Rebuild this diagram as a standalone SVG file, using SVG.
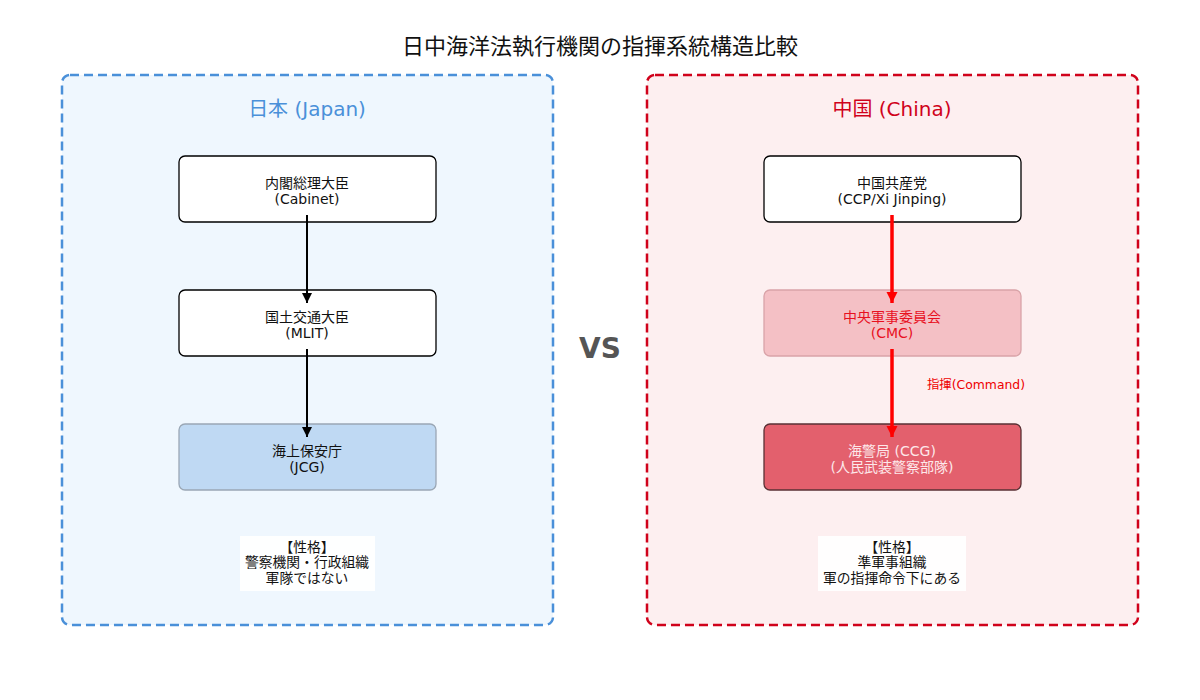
<svg xmlns="http://www.w3.org/2000/svg" width="1200" height="700" viewBox="0 0 1200 700">
<defs>
<style>
text{font-family:"DejaVu Sans","Noto Sans CJK JP",sans-serif;text-anchor:middle}
.title{font-size:22px;fill:#111}
.ptitle{font-size:20px}
.nt{font-size:14px;fill:#111}
.note{font-size:13.8px;fill:#111}
.node{stroke-width:1.3}
</style>
<marker id="ahk" viewBox="0 0 10 10" refX="10" refY="5" markerWidth="10" markerHeight="12" markerUnits="userSpaceOnUse" orient="auto"><path d="M0,0L10,5L0,10z" fill="#000"/></marker>
<marker id="ahr" viewBox="0 0 10 10" refX="10" refY="5" markerWidth="11" markerHeight="14" markerUnits="userSpaceOnUse" orient="auto"><path d="M0,0L10,5L0,10z" fill="#ff0000"/></marker>
</defs>
<rect width="1200" height="700" fill="#fff"/>
<text class="title" x="600" y="54">日中海洋法執行機関の指揮系統構造比較</text>

<g id="panel-japan">
<rect x="62" y="75" width="491" height="550" rx="8" fill="#eff7fe" stroke="#4a90d9" stroke-width="2.5" stroke-dasharray="9,5"/>
<text class="ptitle" x="307" y="116" fill="#4a90d9">日本 (Japan)</text>
</g>
<g id="panel-china">
<rect x="647" y="75" width="491" height="550" rx="8" fill="#fdeff0" stroke="#d0021b" stroke-width="2.5" stroke-dasharray="9,5"/>
<text class="ptitle" x="892" y="116" fill="#d0021b">中国 (China)</text>
</g>

<g id="vs"><text x="600" y="358" style="font-size:28px;font-weight:bold;fill:#555">VS</text></g>

<g id="node-cabinet">
<rect class="node" x="179" y="156" width="257" height="66" rx="6" fill="#fff" stroke="#000"/>
<text class="nt" x="307" y="188">内閣総理大臣</text>
<text class="nt" x="307" y="204">(Cabinet)</text>
</g>
<g id="node-mlit">
<rect class="node" x="179" y="290" width="257" height="66" rx="6" fill="#fff" stroke="#000"/>
<text class="nt" x="307" y="322">国土交通大臣</text>
<text class="nt" x="307" y="338">(MLIT)</text>
</g>
<g id="node-jcg">
<rect class="node" x="179" y="424" width="257" height="66" rx="6" fill="#bfd9f3" stroke="#9aa7b5"/>
<text class="nt" x="307" y="456">海上保安庁</text>
<text class="nt" x="307" y="472">(JCG)</text>
</g>
<g id="note-japan">
<rect x="240" y="536" width="135" height="55" fill="#fff" fill-opacity="0.9"/>
<text class="note" x="307" y="552">【性格】</text>
<text class="note" x="307" y="567">警察機関・行政組織</text>
<text class="note" x="307" y="583">軍隊ではない</text>
</g>

<g id="node-ccp">
<rect class="node" x="764" y="156" width="257" height="66" rx="6" fill="#fff" stroke="#000"/>
<text class="nt" x="892" y="188">中国共産党</text>
<text class="nt" x="892" y="204">(CCP/Xi Jinping)</text>
</g>
<g id="node-cmc">
<rect class="node" x="764" y="290" width="257" height="66" rx="6" fill="#f4c0c5" stroke="#d9a3a8"/>
<text class="nt" x="892" y="322" style="fill:#e8101f">中央軍事委員会</text>
<text class="nt" x="892" y="338" style="fill:#e8101f">(CMC)</text>
</g>
<g id="node-ccg">
<rect class="node" x="764" y="424" width="257" height="66" rx="6" fill="#e3606d" stroke="#5a3034"/>
<text class="nt" x="892" y="456" style="fill:#fde8ea">海警局 (CCG)</text>
<text class="nt" x="892" y="472" style="fill:#fde8ea">(人民武装警察部隊)</text>
</g>
<g id="note-china">
<rect x="818" y="536" width="148" height="55" fill="#fff" fill-opacity="0.9"/>
<text class="note" x="892" y="552">【性格】</text>
<text class="note" x="892" y="567">準軍事組織</text>
<text class="note" x="892" y="583">軍の指揮命令下にある</text>
</g>

<g id="connectors">
<line x1="307" y1="215" x2="307" y2="303" stroke="#000" stroke-width="2" marker-end="url(#ahk)"/>
<line x1="307" y1="349" x2="307" y2="437" stroke="#000" stroke-width="2" marker-end="url(#ahk)"/>
<line x1="892" y1="215" x2="892" y2="303" stroke="#ff0000" stroke-width="3.5" marker-end="url(#ahr)"/>
<line x1="892" y1="349" x2="892" y2="437" stroke="#ff0000" stroke-width="3.5" marker-end="url(#ahr)"/>
<text x="976" y="389" style="font-size:12.4px;fill:#ee0000">指揮(Command)</text>
</g>
</svg>
